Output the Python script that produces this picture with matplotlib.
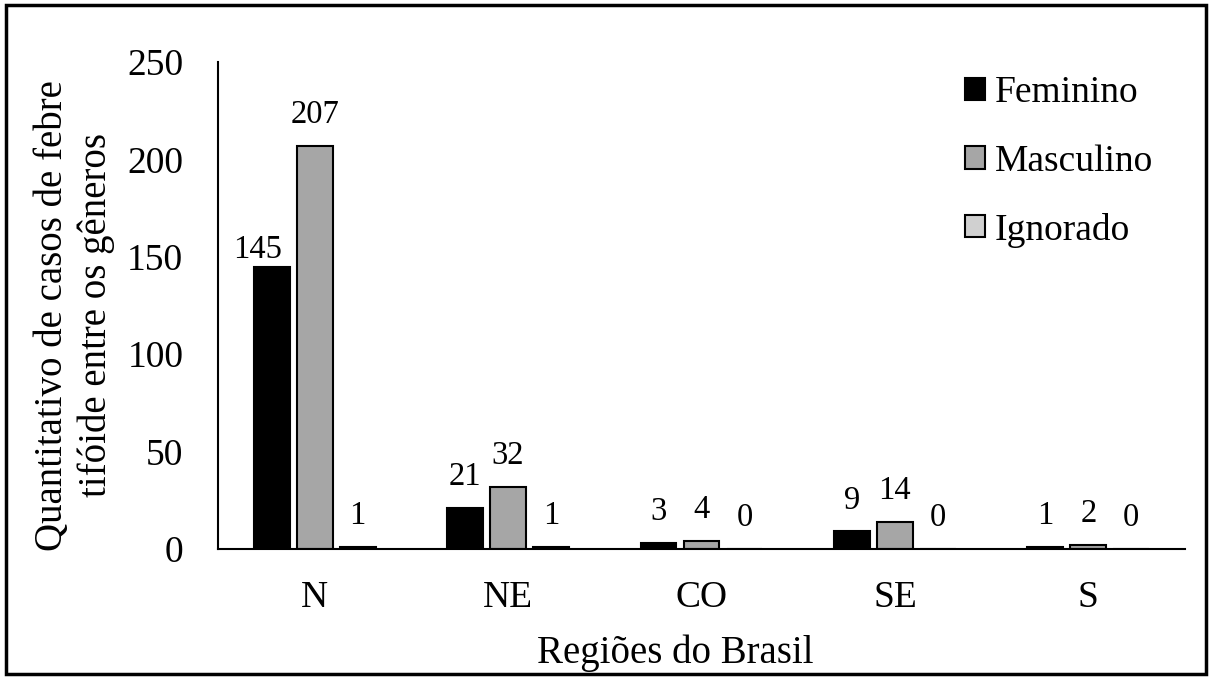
import numpy as np
import matplotlib.pyplot as plt
from matplotlib.patches import Rectangle

plt.rcParams['font.family'] = ['Liberation Serif', 'DejaVu Serif']

regioes = ["N", "NE", "CO", "SE", "S"]
feminino = [145, 21, 3, 9, 1]
masculino = [207, 32, 4, 14, 2]
ignorado = [1, 1, 0, 0, 0]

series = [("Feminino", feminino, "#000000"),
          ("Masculino", masculino, "#a6a6a6"),
          ("Ignorado", ignorado, "#d0d0d0")]

fig = plt.figure(figsize=(12.12, 6.79), dpi=100)
ax = fig.add_axes([218 / 1212, 1 - 549 / 679, 967 / 1212, 487 / 679])

x = np.arange(len(regioes))
w = 0.185
step = 0.222
for i, (nome, vals, cor) in enumerate(series):
    pos = x + (i - 1) * step
    bars = ax.bar(pos, vals, w, color=cor, edgecolor="black", linewidth=1.5, label=nome)
    for b, v in zip(bars, vals):
        # label of 145 sits lower and a bit to the left in the original
        off = (-10, 6.5) if v == 145 else (0, 16.5)
        ax.annotate(str(v), (b.get_x() + b.get_width() / 2, v), xytext=off,
                    textcoords="offset points", ha="center", va="baseline", fontsize=23.5)

ax.set_xlim(-0.5, 4.5)
ax.set_ylim(0, 250)
ax.set_yticks([0, 50, 100, 150, 200, 250])
ax.set_xticks(x)
ax.set_xticklabels(regioes)
ax.tick_params(axis="both", length=0, labelsize=27)
ax.tick_params(axis="x", pad=23)
ax.tick_params(axis="y", pad=25)
for s in ["top", "right"]:
    ax.spines[s].set_visible(False)
ax.spines["left"].set_linewidth(1.5)
ax.spines["bottom"].set_linewidth(1.5)

ax.set_xlabel("Regiões do Brasil", fontsize=28, labelpad=14)
ax.xaxis.label.set_x(0.473)
ax.set_ylabel("Quantitativo de casos de febre\ntifóide entre os gêneros", fontsize=28,
              labelpad=9, linespacing=1.2)
ax.yaxis.label.set_y(0.48)

ax.legend(loc="upper left", bbox_to_anchor=(965 / 1212, 1 - 76 / 679),
          bbox_transform=fig.transFigure, frameon=False, fontsize=27,
          borderpad=0, borderaxespad=0,
          handlelength=0.53, handleheight=0.53, handletextpad=0.27, labelspacing=0.9)

fig.patches.append(Rectangle((0.005, 0.007), 0.99, 0.986, transform=fig.transFigure,
                             fill=False, edgecolor="black", linewidth=2.5))

fig.savefig("out.png", dpi=100)
